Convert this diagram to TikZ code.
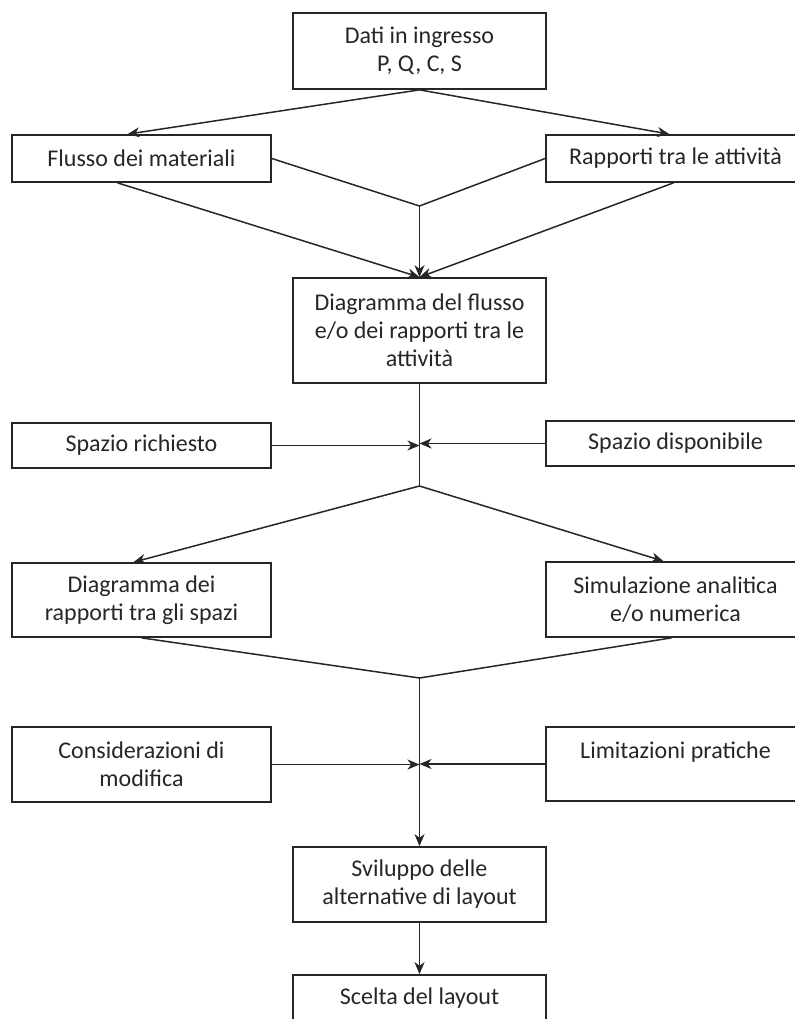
\documentclass[tikz,border=0pt]{standalone}
\usepackage{fontspec}
\setmainfont{Carlito}
\usetikzlibrary{arrows.meta}
\tikzset{
  blocco/.style={draw=black!85,line width=0.85pt,align=center,inner sep=2pt,
    font=\fontsize{12}{14}\selectfont,text=black!85},
  linea/.style={draw=black!85,line width=0.75pt},
}
\begin{document}
\begin{tikzpicture}[x=0.5pt,y=-0.5pt,>={Stealth[length=6pt,width=5pt,inset=1.8pt]}]
    \useasboundingbox (0,0) rectangle (795,1019);
    % blocchi
    \node[blocco,minimum width=126.5pt,minimum height=38pt] (dati) at (419.5,51) {Dati in ingresso\\P, Q, C, S};
    \node[blocco,minimum width=129.5pt,minimum height=23.5pt] (flusso) at (141.5,158.5) {Flusso dei materiali};
    \node[blocco,minimum width=129.5pt,minimum height=23.5pt] (rapporti) at (675.5,158.5) {Rapporti tra le attività};
    \node[blocco,minimum width=126.5pt,minimum height=52.5pt] (diagflusso) at (419.5,330.5) {Diagramma del flusso\\e/o dei rapporti tra le\\attività};
    \node[blocco,minimum width=129.5pt,minimum height=22.5pt] (spaziorich) at (141.5,445.5) {Spazio richiesto};
    \node[blocco,minimum width=129.5pt,minimum height=22.5pt] (spaziodisp) at (675.5,443.5) {Spazio disponibile};
    \node[blocco,minimum width=129.5pt,minimum height=37pt] (diagspazi) at (141.5,600) {Diagramma dei\\rapporti tra gli spazi};
    \node[blocco,minimum width=129.5pt,minimum height=37.5pt] (simulaz) at (675.5,599.5) {Simulazione analitica\\e/o numerica};
    \node[blocco,minimum width=129.5pt,minimum height=37.5pt] (consid) at (141.5,764.5) {Considerazioni di\\modifica};
    \node[blocco,minimum width=129.5pt,minimum height=37pt] (limitaz) at (675.5,764) {Limitazioni pratiche\\\phantom{x}};
    \node[blocco,minimum width=126.5pt,minimum height=37.5pt] (sviluppo) at (419.5,884.5) {Sviluppo delle\\alternative di layout};
    \node[blocco,minimum width=126.5pt,minimum height=23.5pt] (scelta) at (419.5,998.5) {Scelta del layout};
    % nodi di raccordo
    \coordinate (j1) at (419.5,206);
    \coordinate (j2) at (419.5,486);
    \coordinate (j3) at (419.5,678);
    % collegamenti
    \draw[linea,->] (dati.south) -- ([xshift=-7pt]flusso.north);
    \draw[linea,->] (dati.south) -- ([xshift=-3pt]rapporti.north);
    \draw[linea] (flusso.east) -- (j1) -- (rapporti.west);
    \draw[linea,->] (j1) -- (diagflusso.north);
    \draw[linea,->] ([xshift=-12pt]flusso.south) -- (diagflusso.north);
    \draw[linea,->] ([xshift=-1pt]rapporti.south) -- (diagflusso.north);
    \draw[linea] (diagflusso.south) -- (j2);
    \draw[linea,->] (spaziorich.east) -- (spaziorich.east -| j2);
    \draw[linea,->] (spaziodisp.west) -- (spaziodisp.west -| j2);
    \draw[linea,->] (j2) -- ([xshift=-4pt]diagspazi.north);
    \draw[linea,->] (j2) -- ([xshift=-6pt]simulaz.north);
    \draw[linea] (diagspazi.south) -- (j3) -- ([xshift=-2pt]simulaz.south);
    \draw[linea,->] (j3) -- (sviluppo.north);
    \draw[linea,->] (consid.east) -- (consid.east -| j3);
    \draw[linea,->] (limitaz.west) -- (limitaz.west -| j3);
    \draw[linea,->] (sviluppo.south) -- (scelta.north);
\end{tikzpicture}
\end{document}
